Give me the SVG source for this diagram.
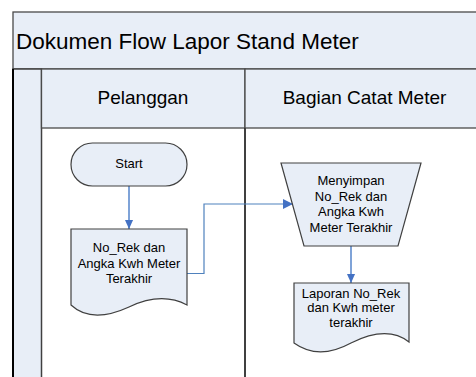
<svg xmlns="http://www.w3.org/2000/svg" width="476" height="377" viewBox="0 0 476 377">
<defs>
<style>
.band{fill:#E8EEF7;stroke:#4A4A4A;stroke-width:1.3}
.shape{fill:#E8EEF7;stroke:#404040;stroke-width:1.2}
.t{font-family:"Liberation Sans",Arial,sans-serif;fill:#000;text-anchor:middle}
.s{font-size:13px}
.flow{fill:none;stroke:#4F81BD}
</style>
<marker id="ah" markerWidth="10" markerHeight="10" viewBox="0 0 10 10" refX="10" refY="5" orient="auto" markerUnits="userSpaceOnUse">
<path d="M0,0 L10,5 L0,10 Z" fill="#4472C4"/>
</marker>
<marker id="ah2" markerWidth="9" markerHeight="9" viewBox="0 0 10 10" refX="10" refY="5" orient="auto" markerUnits="userSpaceOnUse">
<path d="M0,0.5 L10,5 L0,9.5 Z" fill="#4472C4"/>
</marker>
</defs>
<rect width="476" height="377" fill="#fff"/>
<g id="pool">
<rect class="band" x="13" y="12" width="480" height="57"/>
<text class="t" x="16" y="49" font-size="22.5" text-anchor="start" style="text-anchor:start">Dokumen Flow Lapor Stand Meter</text>
<rect x="13" y="69" width="28.5" height="320" fill="#E8EEF7" stroke="#404040" stroke-width="1.5"/>
<line x1="13" y1="69" x2="13" y2="377" stroke="#000" stroke-width="2"/>
</g>
<g id="lane-pelanggan">
<rect class="band" x="41.5" y="69" width="203.5" height="59"/>
<text class="t" x="143" y="104" font-size="19">Pelanggan</text>
<line x1="245" y1="128" x2="245" y2="377" stroke="#000" stroke-width="1.5"/>
</g>
<g id="lane-bagian">
<rect class="band" x="245" y="69" width="250" height="59"/>
<text class="t" x="364.5" y="104" font-size="19">Bagian Catat Meter</text>
</g>
<g id="connectors">
<line class="flow" x1="129" y1="186" x2="129" y2="229" stroke="#7FA3D8" stroke-width="2" marker-end="url(#ah2)" style="stroke:#7FA3D8"/>
<polyline class="flow" points="187,273.5 204,273.5 204,204 293,204" stroke-width="1.2" marker-end="url(#ah)"/>
<line class="flow" x1="351" y1="246" x2="351" y2="283" stroke-width="2" marker-end="url(#ah2)" style="stroke:#7FA3D8"/>
</g>
<g id="start">
<rect class="shape" x="71" y="143" width="116" height="43" rx="21.5"/>
<text class="t s" x="129" y="168">Start</text>
</g>
<g id="doc1">
<path class="shape" d="M71,229 H187 V305 C170,296 150,297 129,307 C105,318 85,318 71,305 Z"/>
<text class="t s" x="129" y="252">No_Rek dan</text>
<text class="t s" x="129" y="268">Angka Kwh Meter</text>
<text class="t s" x="129" y="283">Terakhir</text>
</g>
<g id="simpan">
<polygon class="shape" points="281,163 421,163 398,246 304,246"/>
<text class="t s" x="351" y="185">Menyimpan</text>
<text class="t s" x="351" y="200.5">No_Rek dan</text>
<text class="t s" x="351" y="216">Angka Kwh</text>
<text class="t s" x="351" y="231.5">Meter Terakhir</text>
</g>
<g id="doc2">
<path class="shape" d="M294,283 H409 V342 C395,331 375,331 351,343 C330,354.5 310,354.5 294,343 Z"/>
<text class="t s" x="351" y="298">Laporan No_Rek</text>
<text class="t s" x="351" y="312">dan Kwh meter</text>
<text class="t s" x="351" y="327">terakhir</text>
</g>
</svg>
